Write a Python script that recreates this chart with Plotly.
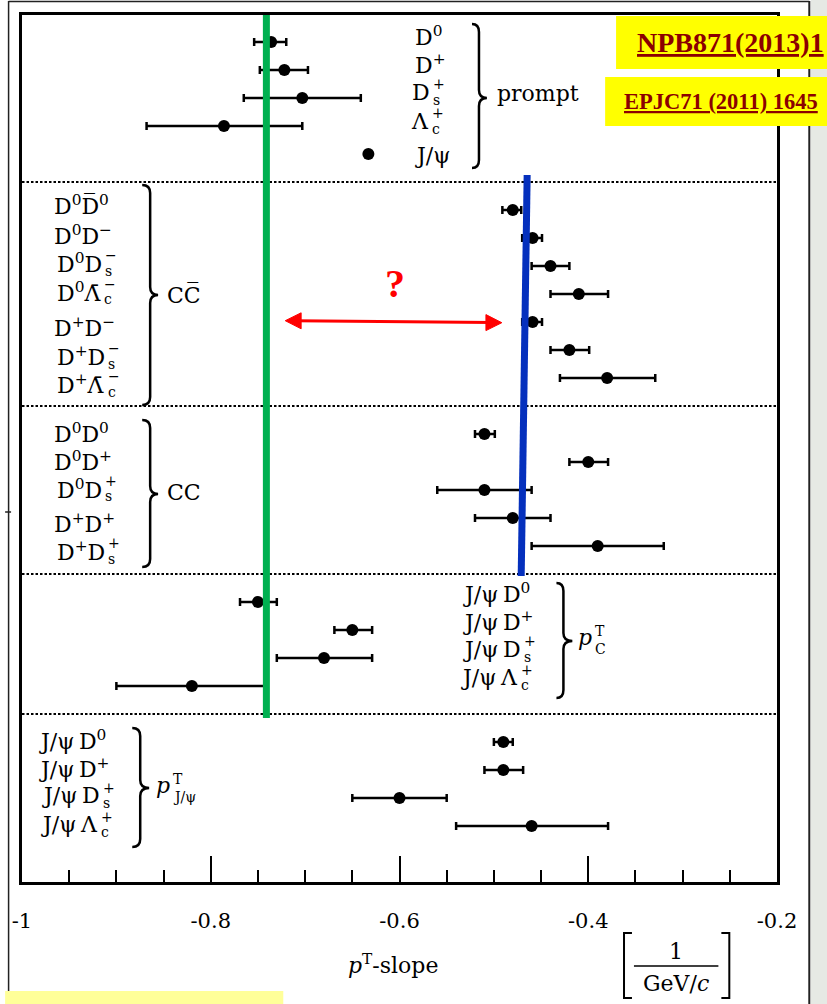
import plotly.graph_objects as go

FONT = "DejaVu Serif"
TS = "\u2009"  # thin space

# ---------------- data ----------------
# prompt
prompt_labels = [("D<sup>0</sup>", "", ""), ("D<sup>+</sup>", "", ""), ("D", "+", "s"),
                 ("Λ", "+", "c"), ("J/ψ", "", "")]
prompt_slope = [-0.736, -0.722, -0.703, -0.786, -0.633]
prompt_err_minus = [0.018, 0.026, 0.062, 0.082, 0.0]
prompt_err_plus = [0.016, 0.025, 0.062, 0.083, 0.0]

# c c-bar pairs
ccbar_labels = [("D<sup>0</sup>D\u0305<sup>0</sup>", "", ""), ("D<sup>0</sup>D<sup>−</sup>", "", ""),
                ("D<sup>0</sup>D", "−", "s"), ("D<sup>0</sup>Λ\u0304", "−", "c"),
                ("D<sup>+</sup>D<sup>−</sup>", "", ""), ("D<sup>+</sup>D", "−", "s"),
                ("D<sup>+</sup>Λ\u0304", "−", "c")]
ccbar_slope = [-0.480, -0.459, -0.440, -0.410, -0.459, -0.420, -0.380]
ccbar_err_minus = [0.011, 0.011, 0.020, 0.030, 0.011, 0.020, 0.050]
ccbar_err_plus = [0.009, 0.010, 0.020, 0.031, 0.010, 0.021, 0.051]

# c c pairs
cc_labels = [("D<sup>0</sup>D<sup>0</sup>", "", ""), ("D<sup>0</sup>D<sup>+</sup>", "", ""),
             ("D<sup>0</sup>D", "+", "s"), ("D<sup>+</sup>D<sup>+</sup>", "", ""),
             ("D<sup>+</sup>D", "+", "s")]
cc_slope = [-0.510, -0.400, -0.510, -0.480, -0.390]
cc_err_minus = [0.010, 0.020, 0.050, 0.040, 0.070]
cc_err_plus = [0.011, 0.021, 0.050, 0.040, 0.070]

# J/psi + charm, slope in pT of charm
pc_labels = [("J/ψ" + TS + "D<sup>0</sup>", "", ""), ("J/ψ" + TS + "D<sup>+</sup>", "", ""),
             ("J/ψ" + TS + "D", "+", "s"), ("J/ψ" + TS + "Λ", "+", "c")]
pc_slope = [-0.750, -0.650, -0.680, -0.820]
pc_err_minus = [0.019, 0.019, 0.050, 0.080]
pc_err_plus = [0.020, 0.021, 0.051, 0.080]

# J/psi + charm, slope in pT of J/psi
pj_labels = [("J/ψ" + TS + "D<sup>0</sup>", "", ""), ("J/ψ" + TS + "D<sup>+</sup>", "", ""),
             ("J/ψ" + TS + "D", "+", "s"), ("J/ψ" + TS + "Λ", "+", "c")]
pj_slope = [-0.490, -0.490, -0.600, -0.460]
pj_err_minus = [0.010, 0.020, 0.050, 0.080]
pj_err_plus = [0.010, 0.021, 0.050, 0.081]

tick_vals = [-1.0, -0.8, -0.6, -0.4, -0.2]
tick_text = ["-1", "-0.8", "-0.6", "-0.4", "-0.2"]

groups = [
    (prompt_labels, prompt_slope, prompt_err_minus, prompt_err_plus),
    (ccbar_labels, ccbar_slope, ccbar_err_minus, ccbar_err_plus),
    (cc_labels, cc_slope, cc_err_minus, cc_err_plus),
    (pc_labels, pc_slope, pc_err_minus, pc_err_plus),
    (pj_labels, pj_slope, pj_err_minus, pj_err_plus),
]

# ---------------- layout helpers (pixel -> paper) ----------------
W, H = 827, 1004
PL, PR, PT, PB = 17, 777, 15, 882


def PX(px):
    return (px - PL) / (PR - PL)


def PY(py):
    return (PB - py) / (PB - PT)


# label layout (pixel positions of text)
label_left = [412, 48, 48, 460, 33]
label_cap_y = [
    [36, 64, 92.5, 121, 155],
    [205, 235, 263, 292, 327, 356, 384],
    [432.5, 461, 489, 522.5, 551],
    [592.5, 621, 649, 677.5],
    [739.5, 767.5, 795.5, 824.5],
]
script_x = [
    [None, None, 429, 428, None],
    [None, None, 99, 98, None, 102, 102],
    [None, None, 99, None, 102],
    [None, None, 520, 517],
    [None, None, 97, 95],
]

fig = go.Figure()

sep_rows = []
start = 0
for gi, (labels, slope, em, ep) in enumerate(groups):
    rows = [start + i for i in range(len(slope))]
    fig.add_trace(go.Scatter(
        x=slope, y=rows, mode="markers",
        marker=dict(size=12, color="black"),
        error_x=dict(type="data", symmetric=False, array=ep, arrayminus=em,
                     color="black", thickness=2.5, width=4),
        showlegend=False, hoverinfo="skip", cliponaxis=False))
    end = start + len(slope)
    if gi < len(groups) - 1:
        sep_rows.append(end)
    start = end + 1

annotations = []
shapes = []


def txt(px, py, text, size=22, xanchor="left", color="black", family=FONT, yanchor="middle"):
    annotations.append(dict(x=PX(px), y=PY(py), xref="paper", yref="paper", text=text,
                            showarrow=False, xanchor=xanchor, yanchor=yanchor, borderpad=0,
                            font=dict(family=family, size=size, color=color)))


# row labels
for gi, (labels, slope, em, ep) in enumerate(groups):
    for i, (base, sup, sub) in enumerate(labels):
        cy = label_cap_y[gi][i]
        sx = script_x[gi][i]
        if sx is None:
            txt(label_left[gi], cy, base)
        else:
            txt(sx, cy, base, xanchor="right")
            txt(sx + 1, cy - 8, sup, size=14)
            txt(sx + 1, cy + 7.5, sub, size=14)

# group titles
txt(494, 93, "prompt")
txt(162, 295, "CC\u0305")
txt(162, 492.5, "CC")
txt(592, 637, "<i>p</i>", xanchor="right")
txt(592.5, 631, "T", size=14)
txt(592.5, 648.5, "C", size=14)
txt(167, 785, "<i>p</i>", xanchor="right")
txt(167.5, 779, "T", size=14)
txt(167.5, 797, "J/ψ", size=14)


def brace(xl, xs, xt, yt, ym, yb, r=8):
    pts = lambda x, y: f"{PX(x):.5f},{PY(y):.5f}"
    return ("M " + pts(xl, yt) + " Q " + pts(xs, yt) + " " + pts(xs, yt + r) +
            " L " + pts(xs, ym - r) + " Q " + pts(xs, ym) + " " + pts(xt, ym) +
            " Q " + pts(xs, ym) + " " + pts(xs, ym + r) +
            " L " + pts(xs, yb - r) + " Q " + pts(xs, yb) + " " + pts(xl, yb))


for (xl, xs, xt, yt, ym, yb) in [(470, 477, 485, 24, 98, 168),
                                 (138, 146, 154, 185, 295, 405),
                                 (138, 146, 154, 420, 494, 567),
                                 (555, 562, 571, 583, 641, 698),
                                 (128, 136, 145, 728, 788, 847)]:
    shapes.append(dict(type="path", xref="paper", yref="paper", path=brace(xl, xs, xt, yt, ym, yb),
                       line=dict(color="black", width=2.5)))

# dotted separators
for r in sep_rows:
    shapes.append(dict(type="line", xref="paper", yref="y", x0=0, x1=1, y0=r, y1=r,
                       line=dict(color="black", width=2, dash="2.5px,2px")))

# green and blue guide lines
shapes.append(dict(type="line", xref="paper", yref="paper", x0=PX(263), x1=PX(263),
                   y0=PY(15), y1=PY(718), line=dict(color="#00B050", width=7), layer="above"))
shapes.append(dict(type="line", xref="paper", yref="paper", x0=PX(525.5), x1=PX(519.5),
                   y0=PY(175), y1=PY(576), line=dict(color="#0530BD", width=7), layer="above"))

# red double arrow
shapes.append(dict(type="line", xref="paper", yref="paper", x0=PX(292), x1=PX(490),
                   y0=PY(320.8), y1=PY(322.6), line=dict(color="#FF0000", width=3)))
shapes.append(dict(type="path", xref="paper", yref="paper",
                   path=f"M {PX(282)},{PY(320.7)} L {PX(298)},{PY(312.8)} L {PX(298)},{PY(328.8)} Z",
                   fillcolor="#FF0000", line=dict(color="#FF0000", width=1)))
shapes.append(dict(type="path", xref="paper", yref="paper",
                   path=f"M {PX(500)},{PY(322.7)} L {PX(484)},{PY(314.6)} L {PX(484)},{PY(330.6)} Z",
                   fillcolor="#FF0000", line=dict(color="#FF0000", width=1)))
txt(392, 283, "<b>?</b>", size=40, xanchor="center", color="#FF0000", family="Liberation Serif")

# outer frame
shapes.append(dict(type="line", xref="paper", yref="paper", x0=PX(3.5), x1=PX(809.5),
                   y0=PY(1.5), y1=PY(1.5), line=dict(color="#222222", width=1.5)))
shapes.append(dict(type="line", xref="paper", yref="paper", x0=PX(3.5), x1=PX(3.5),
                   y0=PY(1), y1=PY(1004), line=dict(color="#222222", width=1.5)))
shapes.append(dict(type="line", xref="paper", yref="paper", x0=PX(809.5), x1=PX(809.5),
                   y0=PY(1), y1=PY(1004), line=dict(color="#222222", width=2)))
shapes.append(dict(type="line", xref="paper", yref="paper", x0=PX(0), x1=PX(6),
                   y0=PY(512), y1=PY(512), line=dict(color="#222222", width=1.5)))

# background strip on the right
shapes.append(dict(type="rect", xref="paper", yref="paper", x0=PX(811), x1=PX(828),
                   y0=PY(0), y1=PY(1005), fillcolor="#E6E9E4", line=dict(width=0), layer="below"))

# yellow reference boxes
shapes.append(dict(type="rect", xref="paper", yref="paper", x0=PX(615), x1=PX(830),
                   y0=PY(16), y1=PY(69), fillcolor="#FFFF00", line=dict(width=0), layer="above"))
shapes.append(dict(type="rect", xref="paper", yref="paper", x0=PX(604), x1=PX(830),
                   y0=PY(77), y1=PY(126), fillcolor="#FFFF00", line=dict(width=0), layer="above"))
shapes.append(dict(type="rect", xref="paper", yref="paper", x0=PX(0), x1=PX(280),
                   y0=PY(991), y1=PY(1005), fillcolor="#FFFF99", line=dict(width=0), layer="above"))
txt(635, 43, "<b><u>NPB871(2013)1</u></b>", size=28, color="#8B0000", family="Liberation Serif")
txt(622, 102, "<b><u>EPJC71 (2011) 1645</u></b>", size=22.5, color="#8B0000", family="Liberation Serif")

# axis title and unit
txt(390, 964, "<i>p</i><sup>T</sup>-slope", xanchor="center")
txt(675, 951, "1", xanchor="center")
txt(675, 983, "GeV/<i>c</i>", xanchor="center")
shapes.append(dict(type="line", xref="paper", yref="paper", x0=PX(633), x1=PX(718),
                   y0=PY(966), y1=PY(966), line=dict(color="black", width=1.5)))
shapes.append(dict(type="path", xref="paper", yref="paper",
                   path=f"M {PX(631)},{PY(933)} L {PX(623)},{PY(933)} L {PX(623)},{PY(998)} L {PX(631)},{PY(998)}",
                   line=dict(color="black", width=2)))
shapes.append(dict(type="path", xref="paper", yref="paper",
                   path=f"M {PX(721)},{PY(933)} L {PX(729)},{PY(933)} L {PX(729)},{PY(998)} L {PX(721)},{PY(998)}",
                   line=dict(color="black", width=2)))

fig.update_layout(
    width=W, height=H,
    margin=dict(l=PL, r=W - PR, t=PT, b=H - PB, pad=0),
    paper_bgcolor="white", plot_bgcolor="white", showlegend=False,
    annotations=annotations, shapes=shapes,
    xaxis=dict(range=[-1, -0.2], showgrid=False, zeroline=False, showline=True,
               linecolor="black", linewidth=2.5, mirror=True,
               ticks="inside", ticklen=26, tickwidth=2, tickcolor="black",
               tickmode="array", tickvals=tick_vals, ticktext=tick_text,
               tickfont=dict(family=FONT, size=21, color="black"), ticklabelstandoff=18,
               minor=dict(tickmode="linear", tick0=-1, dtick=0.05, ticks="inside",
                          ticklen=12, tickwidth=2, tickcolor="black", showgrid=False)),
    yaxis=dict(range=[(PB - 42) / 28.0, (PT - 42) / 28.0], showgrid=False, zeroline=False,
               showline=True, linecolor="black", linewidth=2.5, mirror=True,
               showticklabels=False, ticks=""),
)

fig.write_html("out.html")
